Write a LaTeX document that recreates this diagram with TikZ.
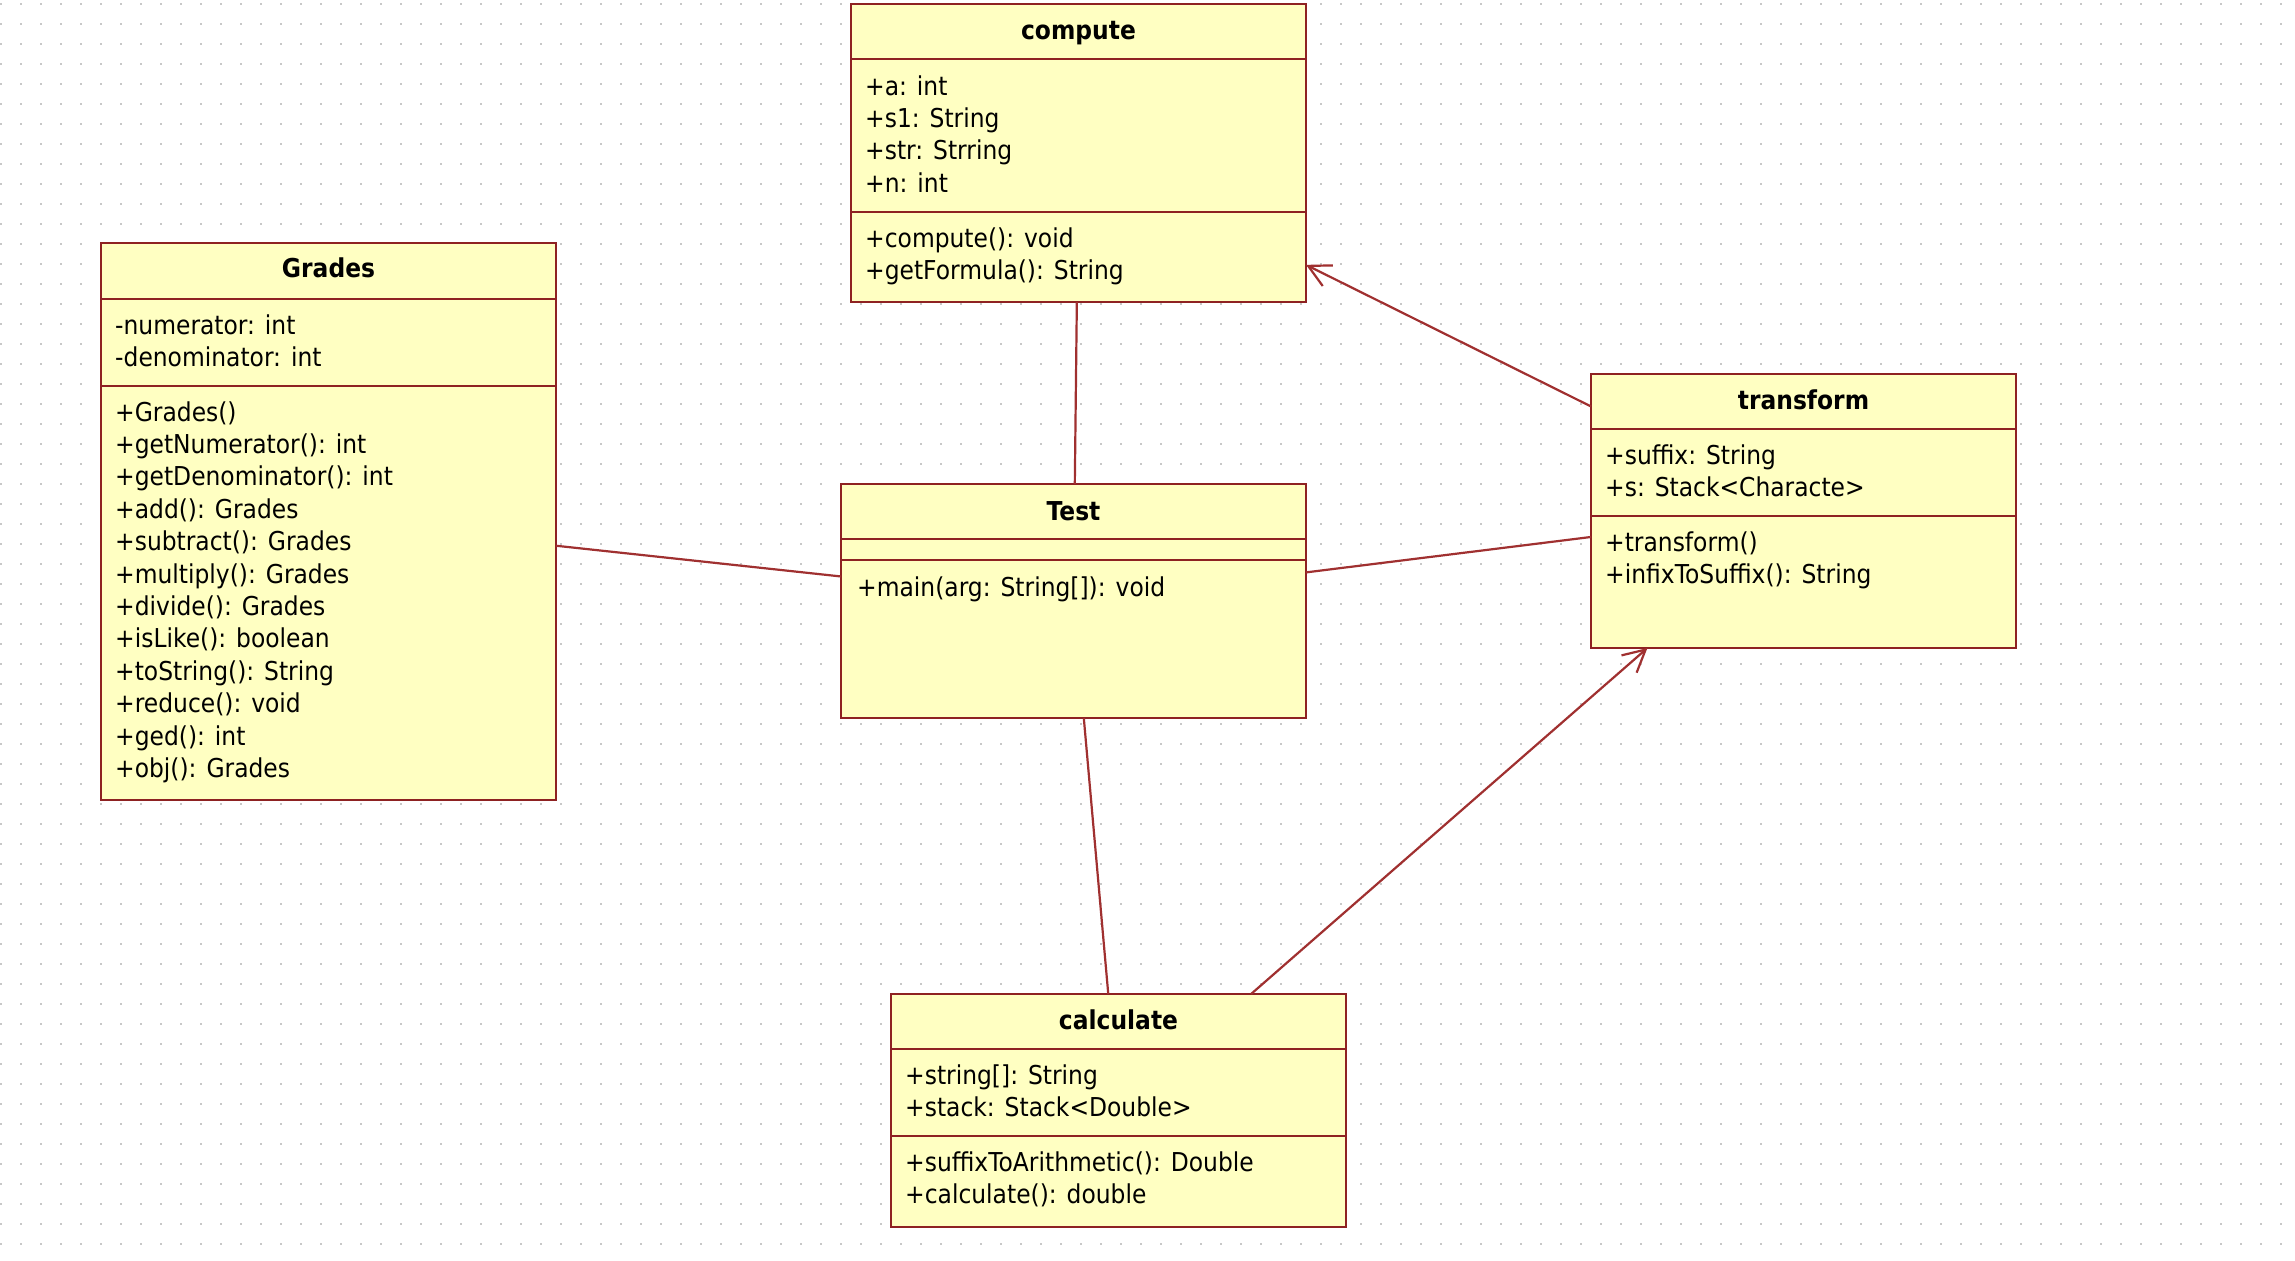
\documentclass[tikz,border=0pt]{standalone}
\usepackage{fontspec}
\setmainfont{DejaVu Sans}[FakeStretch=0.9]
\usetikzlibrary{arrows.meta}
\definecolor{boxfill}{RGB}{255,255,194}
\definecolor{boxline}{RGB}{142,34,34}
\definecolor{connc}{RGB}{160,48,48}
\definecolor{dotc}{RGB}{200,200,200}
\begin{document}
\begin{tikzpicture}[x=1pt,y=-1pt,
  classbox/.style={draw=boxline, fill=boxfill, line width=2.8pt, rectangle, inner sep=0pt, outer sep=0pt},
  member/.style={anchor=base west, inner sep=0pt, font=\fontsize{26}{32}\selectfont, text=black},
  ctitle/.style={anchor=base, inner sep=0pt, font=\fontsize{26}{32}\selectfont\bfseries, text=black},
  sepline/.style={draw=boxline, line width=2.8pt},
  assoc/.style={draw=connc, line width=2.2pt},
  nav/.style={-{Straight Barb[length=22pt,width=23pt,line width=2.2pt]}}]
\fill[white] (0,0) rectangle (2295,1261);
\useasboundingbox (0,0) rectangle (2295,1261);
% dotted grid
\foreach \r in {0,...,62}
  \draw[dotc, line width=2pt, dash pattern=on 2pt off 18pt] (0,{3.5+20*\r}) -- (2295,{3.5+20*\r});

% class boxes
\node[classbox, minimum width=455pt, minimum height=298pt] (compute) at (1078.5,153) {};
\node[classbox, minimum width=455pt, minimum height=557pt] (grades) at (328.5,521.5) {};
\node[classbox, minimum width=465pt, minimum height=234pt] (test) at (1073.5,601) {};
\node[classbox, minimum width=425pt, minimum height=274pt] (transform) at (1803.5,511) {};
\node[classbox, minimum width=455pt, minimum height=233pt] (calculate) at (1118.5,1110.5) {};

% compartment separators
\draw[sepline] (compute.west |- 0,59) -- (compute.east |- 0,59);
\draw[sepline] (compute.west |- 0,212) -- (compute.east |- 0,212);
\draw[sepline] (grades.west |- 0,299) -- (grades.east |- 0,299);
\draw[sepline] (grades.west |- 0,386) -- (grades.east |- 0,386);
\draw[sepline] (test.west |- 0,539) -- (test.east |- 0,539);
\draw[sepline] (test.west |- 0,560) -- (test.east |- 0,560);
\draw[sepline] (transform.west |- 0,429) -- (transform.east |- 0,429);
\draw[sepline] (transform.west |- 0,516) -- (transform.east |- 0,516);
\draw[sepline] (calculate.west |- 0,1049) -- (calculate.east |- 0,1049);
\draw[sepline] (calculate.west |- 0,1136) -- (calculate.east |- 0,1136);

% titles
\node[ctitle] (computeT) at (1078.5,39) {compute};
\node[ctitle] (gradesT) at (328.5,277) {Grades};
\node[ctitle] (testT) at (1073.5,520) {Test};
\node[ctitle] (transformT) at (1803.5,409) {transform};
\node[ctitle] (calculateT) at (1118.5,1029) {calculate};

% compute members
\foreach \t [count=\k from 0] in {{+a: int},{+s1: String},{+str: Strring},{+n: int}}
  \node[member] (computeA\k) at (865,{95+32.4*\k}) {\t};
\foreach \t [count=\k from 0] in {{+compute(): void},{+getFormula(): String}}
  \node[member] (computeM\k) at (865,{247+32.4*\k}) {\t};

% Grades members
\foreach \t [count=\k from 0] in {{-numerator: int},{-denominator: int}}
  \node[member] (gradesA\k) at (115,{334+32.4*\k}) {\t};
\foreach \t [count=\k from 0] in {{+Grades()},{+getNumerator(): int},{+getDenominator(): int},{+add(): Grades},{+subtract(): Grades},{+multiply(): Grades},{+divide(): Grades},{+isLike(): boolean},{+toString(): String},{+reduce(): void},{+ged(): int},{+obj(): Grades}}
  \node[member] (gradesM\k) at (115,{421+32.4*\k}) {\t};

% Test members
\node[member] (testM0) at (857,596) {+main(arg: String[]): void};

% transform members
\foreach \t [count=\k from 0] in {{+suffix: String},{+s: Stack<Characte>}}
  \node[member] (transformA\k) at (1605,{464+32.4*\k}) {\t};
\foreach \t [count=\k from 0] in {{+transform()},{+infixToSuffix(): String}}
  \node[member] (transformM\k) at (1605,{551+32.4*\k}) {\t};

% calculate members
\foreach \t [count=\k from 0] in {{+string[]: String},{+stack: Stack<Double>}}
  \node[member] (calculateA\k) at (905,{1084+32.4*\k}) {\t};
\foreach \t [count=\k from 0] in {{+suffixToArithmetic(): Double},{+calculate(): double}}
  \node[member] (calculateM\k) at (905,{1171+32.4*\k}) {\t};

% connectors
\draw[assoc] (compute) -- (test);
\draw[assoc] (grades) -- (test);
\draw[assoc] (test) -- (transform);
\draw[assoc, nav] (transform) -- (compute);
\draw[assoc] (test) -- (calculate);
\draw[assoc, nav] (calculate) -- (transform);
\end{tikzpicture}
\end{document}
